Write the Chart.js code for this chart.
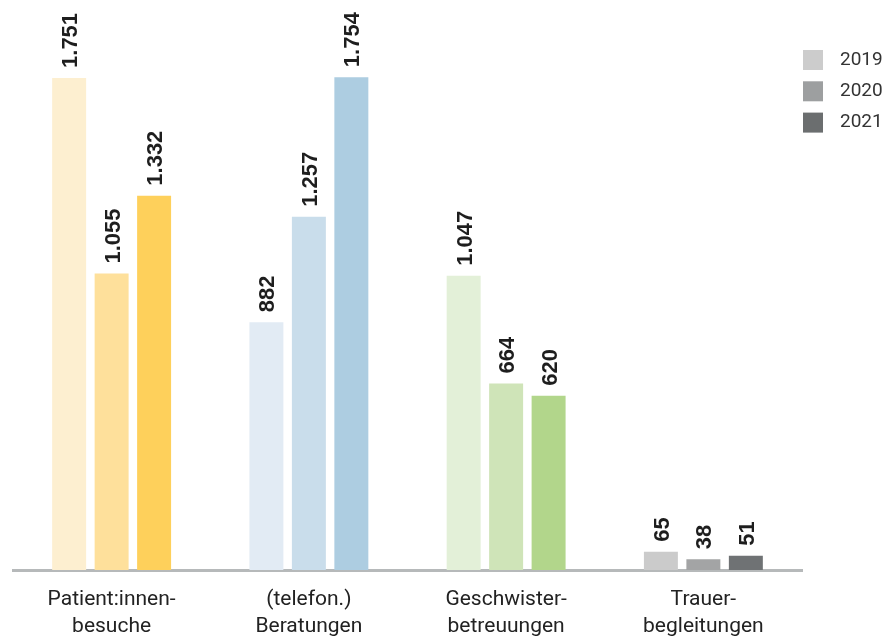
<!DOCTYPE html>
<html>
<head>
<meta charset="utf-8">
<script src="https://cdn.jsdelivr.net/npm/chart.js@4/dist/chart.umd.min.js"></script>
<style>
  html, body { margin: 0; padding: 0; background: #fff; }
  #wrap { width: 888px; height: 641px; position: relative; }
</style>
</head>
<body>
<div id="wrap"><canvas id="myChart"></canvas></div>
<script>
// data
var categories = [["Patient:innen-", "besuche"], ["(telefon.)", "Beratungen"], ["Geschwister-", "betreuungen"], ["Trauer-", "begleitungen"]];
var years = ["2019", "2020", "2021"];
var values2019 = [1751, 882, 1047, 65];
var values2020 = [1055, 1257, 664, 38];
var values2021 = [1332, 1754, 620, 51];

// colours: one shade per year for each group
var colors2019 = ["#fdefd0", "#e2ebf4", "#e3f0d8", "#cbcbcb"];
var colors2020 = ["#fee09b", "#c9ddeb", "#cfe4b8", "#a3a4a5"];
var colors2021 = ["#fed05b", "#adcde1", "#b2d68b", "#6f7274"];
var legendColors = ["#cccccc", "#9d9fa0", "#6b6e6f"];

function fmt(v) {
  return String(v).replace(/\B(?=(\d{3})+(?!\d))/g, ".");
}

var valueLabels = {
  id: 'valueLabels',
  afterDatasetsDraw: function(chart) {
    var ctx = chart.ctx;
    var size = 22;
    ctx.save();
    ctx.font = "bold " + size + "px 'Liberation Sans', Arial, sans-serif";
    ctx.fillStyle = "#1e1e1e";
    ctx.textAlign = "left";
    ctx.textBaseline = "alphabetic";
    chart.data.datasets.forEach(function(ds, i) {
      var meta = chart.getDatasetMeta(i);
      meta.data.forEach(function(bar, j) {
        ctx.save();
        ctx.translate(bar.x, bar.y - 10);
        ctx.rotate(-Math.PI / 2);
        ctx.fillText(fmt(ds.data[j]), 0, size * 0.36);
        ctx.restore();
      });
    });
    ctx.restore();
  }
};

var sideLegend = {
  id: 'sideLegend',
  afterDraw: function(chart) {
    var ctx = chart.ctx;
    ctx.save();
    ctx.font = "19px Roboto, 'Liberation Sans', sans-serif";
    ctx.textBaseline = "middle";
    ctx.textAlign = "left";
    years.forEach(function(y, i) {
      var top = 50 + i * 31.3;
      ctx.fillStyle = legendColors[i];
      ctx.fillRect(803, top, 20, 20);
      ctx.fillStyle = "#333";
      ctx.fillText(y, 840, top + 10);
    });
    ctx.restore();
  }
};

var myChart = new Chart(document.getElementById('myChart'), {
  type: 'bar',
  data: {
    labels: categories,
    datasets: [
      { label: years[0], data: values2019, backgroundColor: colors2019 },
      { label: years[1], data: values2020, backgroundColor: colors2020 },
      { label: years[2], data: values2021, backgroundColor: colors2021 }
    ]
  },
  options: {
    responsive: true,
    maintainAspectRatio: false,
    animation: false,
    categoryPercentage: 0.646,
    barPercentage: 0.8,
    layout: {
      padding: { top: 8, left: 13, right: 86, bottom: 0 }
    },
    plugins: {
      legend: { display: false },
      tooltip: { enabled: false }
    },
    scales: {
      x: {
        z: 1,
        afterFit: function(scale) { scale.height = 71; },
        grid: { display: false, drawTicks: false },
        border: { display: true, color: '#b6b9ba', width: 3 },
        ticks: {
          padding: 17,
          color: '#222',
          font: { family: "Roboto, 'Liberation Sans', sans-serif", size: 21, lineHeight: 1.26 }
        }
      },
      y: {
        display: false,
        min: 0,
        max: 2000
      }
    }
  },
  plugins: [valueLabels, sideLegend]
});
</script>
</body>
</html>
